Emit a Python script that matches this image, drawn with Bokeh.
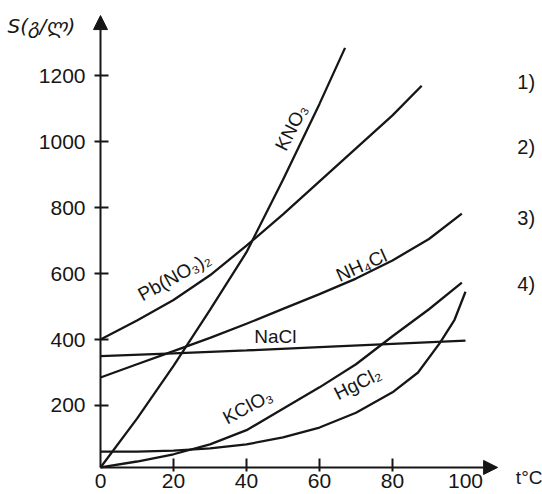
from bokeh.plotting import figure
from bokeh.models import Range1d, FixedTicker, Label, Arrow, NormalHead
from bokeh.embed import file_html
from bokeh.resources import INLINE

# temperatures (°C) and solubilities S (g/L)
kno3_t = [0, 10, 20, 30, 40, 50, 60, 67]
kno3_s = [12, 160, 320, 490, 665, 885, 1115, 1285]

pbno3_t = [0, 10, 20, 30, 40, 50, 60, 70, 80, 88]
pbno3_s = [400, 458, 520, 595, 685, 780, 880, 980, 1080, 1170]

nh4cl_t = [0, 10, 20, 30, 40, 50, 60, 70, 80, 90, 99]
nh4cl_s = [285, 325, 365, 405, 448, 493, 538, 585, 640, 705, 782]

nacl_t = [0, 20, 40, 60, 80, 100]
nacl_s = [350, 358, 367, 377, 387, 397]

kclo3_t = [0, 10, 20, 30, 40, 50, 60, 70, 80, 90, 99]
kclo3_s = [12, 30, 52, 82, 125, 190, 255, 325, 410, 492, 573]

hgcl2_t = [0, 10, 20, 30, 40, 50, 60, 70, 80, 87, 93, 97, 100]
hgcl2_s = [60, 60, 63, 70, 82, 103, 133, 178, 240, 300, 390, 460, 545]

x_ticks = [0, 20, 40, 60, 80, 100]
y_ticks = [200, 400, 600, 800, 1000, 1200]
options = ["1)", "2)", "3)", "4)"]
option_levels = [1180, 983, 770, 570]

FONT = "Liberation Sans"
INK = "#161616"
X_AXIS_AT = 12      # S value where the temperature axis is drawn
X_ARROW_END = 108.8
Y_ARROW_END = 1383

p = figure(width=542, height=494, x_range=Range1d(-27.4, 121.1), y_range=Range1d(-70.1, 1428.7),
           output_backend="svg", toolbar_location=None,
           min_border_left=0, min_border_right=0, min_border_top=0, min_border_bottom=0)
p.title.visible = False
p.outline_line_color = None
p.grid.visible = False

for t, s in [(kno3_t, kno3_s), (pbno3_t, pbno3_s), (nh4cl_t, nh4cl_s),
             (nacl_t, nacl_s), (kclo3_t, kclo3_s), (hgcl2_t, hgcl2_s)]:
    p.line(t, s, line_color=INK, line_width=2.3)

# y axis (line drawn by the arrow)
ya = p.yaxis[0]
ya.fixed_location = 0
ya.ticker = FixedTicker(ticks=y_ticks)
ya.axis_line_color = None
ya.major_tick_line_width = 2
ya.major_tick_line_color = INK
ya.major_tick_in = 8
ya.major_tick_out = 6
ya.minor_tick_line_color = None
ya.major_label_text_font = FONT
ya.major_label_text_font_size = "21px"
ya.major_label_text_color = INK
ya.major_label_standoff = 9

# x axis
xa = p.xaxis[0]
xa.fixed_location = X_AXIS_AT
xa.ticker = FixedTicker(ticks=x_ticks, minor_ticks=x_ticks[1:-1])
xa.axis_line_color = None
xa.major_tick_in = 0
xa.major_tick_out = 0
xa.major_tick_line_color = None
xa.minor_tick_in = 9
xa.minor_tick_out = 4
xa.minor_tick_line_width = 2
xa.minor_tick_line_color = INK
xa.major_label_text_font = FONT
xa.major_label_text_font_size = "21px"
xa.major_label_text_color = INK
xa.major_label_standoff = 3

# axis lines with arrow heads
p.add_layout(Arrow(end=NormalHead(size=14, fill_color=INK, line_color=INK),
                   x_start=0, y_start=X_AXIS_AT, x_end=0, y_end=Y_ARROW_END,
                   line_width=2, line_color=INK))
p.add_layout(Arrow(end=NormalHead(size=14, fill_color=INK, line_color=INK),
                   x_start=0, y_start=X_AXIS_AT, x_end=X_ARROW_END, y_end=X_AXIS_AT,
                   line_width=2, line_color=INK))

def lab(x, y, text, angle=0, size="19px", align="center", font=FONT, style="normal"):
    p.add_layout(Label(x=x, y=y, text=text, angle=angle, angle_units="deg",
                       text_align=align, text_baseline="middle",
                       text_font=font, text_font_size=size, text_color=INK,
                       text_font_style=style))

# curve labels
lab(52.3, 1043, "KNO₃", 63)
lab(20.2, 591, "Pb(NO₃)₂", 29)
lab(71.5, 625, "NH₄Cl", 24)
lab(47.9, 409, "NaCl", 0)
lab(40.3, 197, "KClO₃", 28)
lab(70.4, 267, "HgCl₂", 27)

# axis titles
lab(-25.5, 1350, "S(გ/ლ)", 0, "20px", "left", "DejaVu Sans", "italic")
lab(113.8, -18.5, "t°C", 0, "19px", "left")

# answer options
for txt, yv in zip(options, option_levels):
    lab(114.2, yv, txt, 0, "20px", "left")

open("out.html", "w").write(file_html(p, INLINE))
